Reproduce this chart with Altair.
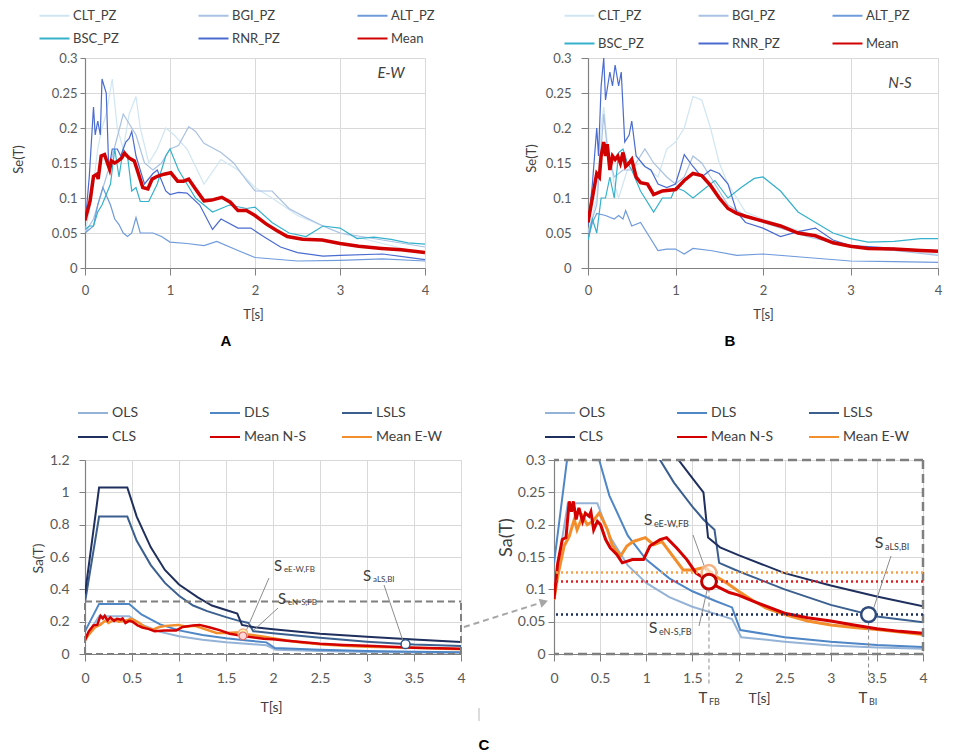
import altair as alt
import pandas as pd

FONT = "Lato"
TXT = "#404040"
TICK = "#595959"
GRID = "#d9d9d9"
AXC = "#808080"

# ---------------- Panel A : E-W records ----------------
A_NAMES = ["CLT_PZ", "BGI_PZ", "ALT_PZ", "BSC_PZ", "RNR_PZ", "Mean"]
A_COLORS = ["#cfe6f2", "#a9c1e3", "#6f9bdb", "#35b1cb", "#4a6bd0", "#d10000"]

A_T_CLT = [0, 0.05, 0.1, 0.15, 0.2, 0.25, 0.32, 0.38, 0.45, 0.52, 0.6, 0.65, 0.75, 0.85, 0.95, 1.05, 1.2, 1.4, 1.6, 1.8, 2.0, 2.2, 2.5, 2.8, 3.0, 3.5, 4.0]
A_V_CLT = [0.05, 0.08, 0.12, 0.17, 0.2, 0.22, 0.27, 0.2, 0.17, 0.22, 0.245, 0.2, 0.15, 0.17, 0.2, 0.19, 0.17, 0.12, 0.155, 0.14, 0.115, 0.1, 0.075, 0.06, 0.05, 0.035, 0.02]
A_T_BGI = [0, 0.1, 0.2, 0.3, 0.45, 0.5, 0.6, 0.7, 0.8, 0.9, 1.0, 1.1, 1.22, 1.3, 1.4, 1.6, 1.75, 1.9, 2.0, 2.2, 2.4, 2.6, 2.8, 3.0, 3.5, 4.0]
A_V_BGI = [0.05, 0.07, 0.11, 0.15, 0.22, 0.21, 0.19, 0.15, 0.14, 0.15, 0.17, 0.175, 0.202, 0.195, 0.178, 0.165, 0.15, 0.125, 0.11, 0.11, 0.085, 0.072, 0.06, 0.05, 0.04, 0.03]
A_T_ALT = [0, 0.05, 0.1, 0.15, 0.21, 0.3, 0.35, 0.4, 0.45, 0.5, 0.55, 0.6, 0.65, 0.8, 0.9, 1.0, 1.2, 1.4, 1.55, 1.8, 2.0, 2.5, 3.0, 3.5, 4.0]
A_V_ALT = [0.05, 0.055, 0.06, 0.09, 0.115, 0.09, 0.07, 0.062, 0.05, 0.045, 0.05, 0.072, 0.05, 0.05, 0.045, 0.037, 0.035, 0.032, 0.038, 0.025, 0.015, 0.01, 0.011, 0.013, 0.01]
A_T_BSC = [0, 0.05, 0.1, 0.15, 0.2, 0.3, 0.35, 0.4, 0.45, 0.5, 0.55, 0.6, 0.65, 0.75, 0.85, 0.95, 1.0, 1.1, 1.2, 1.3, 1.5, 1.7, 1.9, 2.0, 2.2, 2.4, 2.6, 2.8, 3.0, 3.2, 3.4, 3.6, 3.8, 4.0]
A_V_BSC = [0.055, 0.06, 0.06, 0.08, 0.09, 0.12, 0.17, 0.13, 0.17, 0.16, 0.11, 0.115, 0.095, 0.095, 0.12, 0.16, 0.17, 0.14, 0.12, 0.1, 0.08, 0.09, 0.085, 0.087, 0.065, 0.05, 0.045, 0.06, 0.057, 0.042, 0.044, 0.041, 0.036, 0.034]
A_T_RNR = [0, 0.05, 0.1, 0.12, 0.15, 0.18, 0.2, 0.25, 0.28, 0.32, 0.38, 0.42, 0.48, 0.52, 0.55, 0.6, 0.7, 0.8, 0.85, 0.95, 1.0, 1.1, 1.2, 1.35, 1.5, 1.6, 1.8, 1.95, 2.1, 2.3, 2.5, 2.8, 3.0, 3.5, 4.0]
A_V_RNR = [0.06, 0.13, 0.23, 0.19, 0.21, 0.19, 0.27, 0.25, 0.14, 0.17, 0.17, 0.16, 0.18, 0.185, 0.195, 0.16, 0.12, 0.135, 0.14, 0.11, 0.105, 0.108, 0.107, 0.09, 0.055, 0.07, 0.057, 0.057, 0.045, 0.03, 0.022, 0.017, 0.018, 0.02, 0.012]
A_T_MEAN = [0, 0.06, 0.1, 0.14, 0.155, 0.19, 0.23, 0.27, 0.29, 0.31, 0.35, 0.39, 0.43, 0.465, 0.52, 0.58, 0.62, 0.68, 0.74, 0.79, 0.85, 0.93, 1.01, 1.09, 1.16, 1.22, 1.3, 1.4, 1.49, 1.61, 1.71, 1.8, 1.9, 2.0, 2.13, 2.25, 2.38, 2.56, 2.79, 3.0, 3.22, 3.49, 3.72, 4.0]
A_V_MEAN = [0.068, 0.096, 0.131, 0.134, 0.127, 0.16, 0.162, 0.148, 0.141, 0.153, 0.15, 0.153, 0.157, 0.164, 0.157, 0.153, 0.138, 0.115, 0.113, 0.127, 0.131, 0.134, 0.136, 0.124, 0.124, 0.127, 0.113, 0.096, 0.097, 0.101, 0.094, 0.082, 0.082, 0.075, 0.063, 0.054, 0.045, 0.041, 0.04, 0.035, 0.031, 0.028, 0.026, 0.022]

# ---------------- Panel B : N-S records ----------------
B_T_CLT = [0, 0.1, 0.15, 0.18, 0.22, 0.3, 0.35, 0.45, 0.6, 0.8, 0.9, 1.0, 1.1, 1.2, 1.3, 1.4, 1.5, 1.6, 1.8, 2.0, 2.5, 3.0, 3.5, 4.0]
B_V_CLT = [0.05, 0.1, 0.2, 0.23, 0.18, 0.12, 0.1, 0.14, 0.15, 0.13, 0.17, 0.18, 0.2, 0.245, 0.24, 0.2, 0.15, 0.12, 0.08, 0.07, 0.05, 0.03, 0.025, 0.02]
B_T_BGI = [0, 0.1, 0.18, 0.22, 0.3, 0.4, 0.5, 0.65, 0.75, 0.9, 1.0, 1.1, 1.2, 1.3, 1.4, 1.6, 1.8, 2.0, 2.5, 3.0, 3.5, 4.0]
B_V_BGI = [0.05, 0.09, 0.22, 0.17, 0.13, 0.14, 0.14, 0.17, 0.15, 0.13, 0.12, 0.13, 0.16, 0.15, 0.13, 0.09, 0.075, 0.065, 0.045, 0.03, 0.025, 0.018]
B_T_ALT = [0, 0.05, 0.1, 0.2, 0.3, 0.35, 0.4, 0.43, 0.5, 0.6, 0.7, 0.8, 0.9, 1.0, 1.1, 1.2, 1.4, 1.7, 2.0, 2.5, 3.0, 3.5, 4.0]
B_V_ALT = [0.04, 0.065, 0.078, 0.075, 0.07, 0.075, 0.07, 0.082, 0.06, 0.065, 0.045, 0.025, 0.027, 0.027, 0.02, 0.028, 0.025, 0.018, 0.02, 0.015, 0.01, 0.009, 0.008]
B_T_BSC = [0, 0.05, 0.1, 0.15, 0.2, 0.25, 0.3, 0.35, 0.4, 0.45, 0.5, 0.6, 0.75, 0.85, 0.95, 1.0, 1.1, 1.2, 1.3, 1.45, 1.6, 1.75, 1.9, 2.0, 2.2, 2.4, 2.6, 2.8, 3.0, 3.2, 3.5, 3.8, 4.0]
B_V_BSC = [0.04, 0.07, 0.05, 0.1, 0.1, 0.13, 0.1, 0.165, 0.17, 0.15, 0.14, 0.11, 0.08, 0.1, 0.1, 0.115, 0.11, 0.1, 0.11, 0.125, 0.1, 0.115, 0.128, 0.13, 0.11, 0.08, 0.065, 0.05, 0.042, 0.037, 0.038, 0.042, 0.042]
B_T_RNR = [0, 0.05, 0.1, 0.12, 0.15, 0.18, 0.2, 0.25, 0.28, 0.31, 0.35, 0.38, 0.42, 0.47, 0.5, 0.55, 0.65, 0.72, 0.8, 0.9, 1.0, 1.05, 1.1, 1.2, 1.3, 1.4, 1.5, 1.6, 1.7, 1.8, 2.0, 2.2, 2.4, 2.6, 2.8, 3.0, 3.3, 3.6, 4.0]
B_V_RNR = [0.06, 0.12, 0.2, 0.16, 0.26, 0.3, 0.24, 0.28, 0.26, 0.29, 0.26, 0.28, 0.18, 0.19, 0.21, 0.16, 0.145, 0.14, 0.12, 0.115, 0.12, 0.14, 0.162, 0.145, 0.13, 0.14, 0.135, 0.12, 0.08, 0.065, 0.057, 0.045, 0.052, 0.057, 0.04, 0.032, 0.03, 0.027, 0.025]
B_T_MEAN = [0, 0.05, 0.1, 0.13, 0.15, 0.18, 0.2, 0.22, 0.25, 0.28, 0.31, 0.34, 0.37, 0.4, 0.43, 0.47, 0.5, 0.55, 0.6, 0.68, 0.75, 0.85, 1.0, 1.1, 1.2, 1.3, 1.4, 1.5, 1.6, 1.7, 1.8, 2.0, 2.2, 2.4, 2.6, 2.8, 3.0, 3.2, 3.5, 3.8, 4.0]
B_V_MEAN = [0.065, 0.1, 0.135, 0.13, 0.16, 0.18, 0.16, 0.177, 0.14, 0.16, 0.155, 0.16, 0.15, 0.165, 0.145, 0.15, 0.155, 0.13, 0.122, 0.12, 0.105, 0.11, 0.112, 0.125, 0.135, 0.132, 0.118, 0.1, 0.085, 0.078, 0.074, 0.067, 0.06, 0.05, 0.046, 0.036, 0.031, 0.028, 0.027, 0.025, 0.024]

# ---------------- Panels C / D : code spectra and mean spectra ----------------
C_NAMES = ["OLS", "DLS", "LSLS", "CLS", "Mean N-S", "Mean E-W"]
C_COLORS = ["#95b3d7", "#4f86c6", "#3b5f8f", "#1f2f5e", "#d40000", "#f28e2b"]

OLS_T = [0, 0.15, 0.47, 0.6, 0.8, 1.0, 1.25, 1.5, 1.75, 1.93, 2.03, 2.5, 3.0, 3.5, 4.0]
OLS_V = [0.1, 0.233, 0.233, 0.183, 0.137, 0.11, 0.088, 0.073, 0.062, 0.054, 0.026, 0.019, 0.013, 0.01, 0.008]
DLS_T = [0, 0.15, 0.47, 0.6, 0.8, 1.0, 1.25, 1.5, 1.75, 1.93, 2.02, 2.5, 3.0, 3.5, 4.0]
DLS_V = [0.14, 0.31, 0.31, 0.245, 0.183, 0.146, 0.117, 0.097, 0.082, 0.072, 0.037, 0.026, 0.019, 0.014, 0.011]
LSLS_T = [0, 0.15, 0.45, 0.55, 0.7, 0.85, 1.0, 1.15, 1.3, 1.5, 1.62, 1.74, 1.79, 2.0, 2.5, 3.0, 3.5, 4.0]
LSLS_V = [0.32, 0.85, 0.85, 0.70, 0.55, 0.44, 0.36, 0.30, 0.265, 0.228, 0.208, 0.192, 0.141, 0.128, 0.1, 0.076, 0.058, 0.049]
CLS_T = [0, 0.15, 0.45, 0.55, 0.7, 0.85, 1.0, 1.2, 1.35, 1.5, 1.62, 1.67, 1.8, 2.0, 2.5, 3.0, 3.5, 4.0]
CLS_V = [0.37, 1.03, 1.03, 0.85, 0.66, 0.52, 0.43, 0.35, 0.30, 0.272, 0.25, 0.18, 0.165, 0.153, 0.125, 0.106, 0.089, 0.074]
MNS_T = [0, 0.04, 0.09, 0.13, 0.165, 0.19, 0.21, 0.24, 0.27, 0.31, 0.34, 0.38, 0.40, 0.43, 0.47, 0.505, 0.56, 0.61, 0.68, 0.74, 0.85, 0.97, 1.04, 1.15, 1.22, 1.33, 1.44, 1.54, 1.62, 1.68, 1.76, 1.9, 2.0, 2.15, 2.3, 2.5, 2.75, 3.0, 3.25, 3.5, 3.75, 4.0]
MNS_V = [0.085, 0.14, 0.177, 0.18, 0.236, 0.22, 0.236, 0.208, 0.226, 0.205, 0.218, 0.213, 0.22, 0.192, 0.205, 0.2, 0.177, 0.164, 0.154, 0.141, 0.146, 0.146, 0.167, 0.177, 0.18, 0.164, 0.146, 0.125, 0.118, 0.112, 0.105, 0.095, 0.091, 0.082, 0.074, 0.063, 0.056, 0.051, 0.045, 0.039, 0.035, 0.032]
MEW_T = [0, 0.04, 0.11, 0.165, 0.22, 0.25, 0.31, 0.36, 0.42, 0.49, 0.52, 0.58, 0.63, 0.72, 0.79, 0.86, 0.99, 1.08, 1.17, 1.29, 1.4, 1.51, 1.6, 1.65, 1.72, 1.87, 2.0, 2.15, 2.3, 2.5, 2.75, 3.0, 3.25, 3.5, 3.75, 4.0]
MEW_V = [0.084, 0.12, 0.167, 0.182, 0.208, 0.192, 0.213, 0.2, 0.205, 0.218, 0.21, 0.192, 0.169, 0.151, 0.167, 0.174, 0.18, 0.169, 0.174, 0.151, 0.13, 0.13, 0.133, 0.133, 0.123, 0.11, 0.097, 0.083, 0.071, 0.061, 0.051, 0.045, 0.041, 0.038, 0.034, 0.03]

# characteristic points
PT_T = [1.68, 1.68, 3.41]          # T_FB, T_FB, T_BI
PT_V = [0.126, 0.112, 0.061]        # SeE-W,FB ; SeN-S,FB ; SaLS,BI
BOX_C_TOP = 0.325

AX_TICKS = [0, 1, 2, 3, 4]
AX_YTICKS = [0, 0.05, 0.1, 0.15, 0.2, 0.25, 0.3]
C_XTICKS = [0, 0.5, 1, 1.5, 2, 2.5, 3, 3.5, 4]
C_YTICKS = [0, 0.2, 0.4, 0.6, 0.8, 1.0, 1.2]


def frame(names, ts, vs):
    rows = []
    for n, t, v in zip(names, ts, vs):
        for a, b in zip(t, v):
            rows.append({"series": n, "T": a, "v": b})
    return pd.DataFrame(rows)


ONE = pd.DataFrame({"k": [0]})
LEG_PATH = "M-3,0H3"


def legend(x, y, cp, rp, fs):
    return alt.Legend(orient="none", legendX=x, legendY=y, columns=3, direction="horizontal", title=None,
                      symbolType=LEG_PATH, symbolSize=100, symbolStrokeWidth=2,
                      labelOffset=12, labelFont=FONT, labelFontSize=fs, labelColor=TXT,
                      columnPadding=cp, rowPadding=rp, gridAlign="all", labelLimit=300)


def axis(values, fmt, fs, title, tx, ty, tick, lpad, tfs=13, grid=True):
    return alt.Axis(values=values, format=fmt, grid=grid, gridColor=GRID, gridWidth=1,
                    labelFont=FONT, labelFontSize=fs, labelColor=TICK, labelPadding=lpad,
                    labelFlush=False, labelOverlap=False,
                    tickSize=tick, tickColor=AXC, domainColor=AXC, domainWidth=1.2,
                    title=title, titleX=tx, titleY=ty, titleFont=FONT, titleFontSize=tfs,
                    titleFontWeight="normal", titleColor=TXT, titleBaseline="middle",
                    titleAlign="center")


def text(label, x, y, size=13, weight="normal", style="normal", font=FONT, color=TXT, align="center"):
    return alt.Chart(pd.DataFrame({"t": [label]})).mark_text(
        font=font, fontSize=size, fontWeight=weight, fontStyle=style, color=color,
        align=align, baseline="middle").encode(x=alt.value(x), y=alt.value(y), text="t:N")


def sub_label(main, sub, x, y, size, subsize):
    return [text(main, x, y, size=size), text(sub, x + 6, y + 4, size=subsize, align="left")]


def pixel_rule(x1, y1, x2, y2, color="#8c8c8c", width=1, dash=None):
    kw = dict(color=color, strokeWidth=width)
    if dash:
        kw["strokeDash"] = dash
    return alt.Chart(ONE).mark_rule(**kw).encode(
        x=alt.value(x1), y=alt.value(y1), x2=alt.value(x2), y2=alt.value(y2))


def pin(x, y):
    return alt.Chart(ONE).mark_rule(color="white", strokeOpacity=0, strokeWidth=0.5).encode(
        x=alt.value(x), x2=alt.value(x + 1), y=alt.value(y), y2=alt.value(y))


def se_panel(df, names, colors, w, h, leg, ytitle_xy, xtitle_xy, ylpad, ytick, tag, tag_xy, letter, letter_xy, pins):
    color = alt.Color("series:N", scale=alt.Scale(domain=names, range=colors), legend=leg)
    x = alt.X("T:Q", scale=alt.Scale(domain=[0, 4], nice=False),
              axis=axis(AX_TICKS, "d", 13, "T[s]", xtitle_xy[0], xtitle_xy[1], 7, 9))
    y = alt.Y("v:Q", scale=alt.Scale(domain=[0, 0.3], nice=False),
              axis=axis(AX_YTICKS, ".2~f", 13, "Se(T)", ytitle_xy[0], ytitle_xy[1], ytick, ylpad, tfs=13))
    base = alt.Chart(df).encode(x=x, y=y, color=color)
    others = base.transform_filter("datum.series !== 'Mean'").mark_line(strokeWidth=1.2, clip=True)
    mean = base.transform_filter("datum.series === 'Mean'").mark_line(strokeWidth=3.5, clip=True)
    layers = [others, mean,
              text(tag, tag_xy[0], tag_xy[1], size=15, style="italic"),
              text(letter, letter_xy[0], letter_xy[1], size=15, weight="bold", font="Liberation Sans", color="black")]
    layers += [pin(px, py) for px, py in pins]
    return alt.layer(*layers).properties(width=w, height=h)


# ---------- A ----------
dfA = frame(A_NAMES,
            [A_T_CLT, A_T_BGI, A_T_ALT, A_T_BSC, A_T_RNR, A_T_MEAN],
            [A_V_CLT, A_V_BGI, A_V_ALT, A_V_BSC, A_V_RNR, A_V_MEAN])
panelA = se_panel(dfA, A_NAMES, A_COLORS, 340, 210,
                  legend(-37, -49, 73, 9, 13),
                  (-67, 101), (168, 46), 3, 5, "E-W", (306, 15), "A", (141, 283),
                  [(-76, -49), (-76, 295)])

# ---------- B ----------
dfB = frame(A_NAMES,
            [B_T_CLT, B_T_BGI, B_T_ALT, B_T_BSC, B_T_RNR, B_T_MEAN],
            [B_V_CLT, B_V_BGI, B_V_ALT, B_V_BSC, B_V_RNR, B_V_MEAN])
panelB = se_panel(dfB, A_NAMES, A_COLORS, 350, 210,
                  legend(-15, -49, 48, 14, 13),
                  (-57, 100), (175, 46), 10, 7, "N-S", (312, 25), "B", (142, 283), [])

# ---------- C / D ----------
dfC = frame(C_NAMES, [OLS_T, DLS_T, LSLS_T, CLS_T, MNS_T, MEW_T],
            [OLS_V, DLS_V, LSLS_V, CLS_V, MNS_V, MEW_V])
ptdf = pd.DataFrame({"T": PT_T, "v": PT_V})
lvdf = pd.DataFrame({"v": PT_V})


def sa_panel(w, h, ydom, yticks, yfmt, ylpad, ytitle, ytitle_xy, ytfs, xtitle_xy, leg, code_w, mean_w, build_extras):
    xscale = alt.Scale(domain=[0, 4], nice=False)
    yscale = alt.Scale(domain=ydom, nice=False)
    xaxis = axis(C_XTICKS, ".1~f", 14, "T[s]", xtitle_xy[0], xtitle_xy[1], 7, 10, tfs=14)
    yaxis = axis(yticks, yfmt, 14, ytitle, ytitle_xy[0], ytitle_xy[1], 6, ylpad, tfs=ytfs)

    def X(f):
        return alt.X(f, scale=xscale, axis=xaxis)

    def Y(f):
        return alt.Y(f, scale=yscale, axis=yaxis)

    color = alt.Color("series:N", scale=alt.Scale(domain=C_NAMES, range=C_COLORS), legend=leg)
    base = alt.Chart(dfC).encode(x=X("T:Q"), y=Y("v:Q"), color=color)
    code = base.transform_filter("indexof(datum.series, 'Mean') < 0").mark_line(strokeWidth=code_w, clip=True)
    mew = base.transform_filter("datum.series === 'Mean E-W'").mark_line(strokeWidth=mean_w, clip=True)
    mns = base.transform_filter("datum.series === 'Mean N-S'").mark_line(strokeWidth=mean_w, clip=True)
    return alt.layer(code, mew, mns, *build_extras(X, Y)).properties(width=w, height=h)


def circle(X, Y, i, fill, stroke, size, width, fill_opacity=1.0):
    return alt.Chart(ptdf.iloc[[i]]).mark_point(
        shape="circle", filled=False, fill=fill, fillOpacity=fill_opacity, stroke=stroke,
        strokeWidth=width, size=size, opacity=1).encode(x=X("T:Q"), y=Y("v:Q"))


def extras_c(X, Y):
    boxdf = pd.DataFrame({"T0": [0], "T1": [4], "v0": [0], "v1": [BOX_C_TOP]})
    dash = dict(color="#7f7f7f", strokeWidth=2, strokeDash=[7, 4])
    box = [
        alt.Chart(boxdf).mark_rule(**dash).encode(x=X("T0:Q"), x2="T1:Q", y=Y("v1:Q")),
        alt.Chart(boxdf).mark_rule(**dash).encode(x=X("T0:Q"), x2="T1:Q", y=Y("v0:Q")),
        alt.Chart(boxdf).mark_rule(**dash).encode(x=X("T1:Q"), y=Y("v0:Q"), y2="v1:Q"),
        alt.Chart(boxdf).mark_rule(**dash).encode(x=X("T0:Q"), y=Y("v0:Q"), y2="v1:Q"),
    ]
    return box + [
        pixel_rule(184, 118, 161, 171), pixel_rule(193, 148, 169, 170), pixel_rule(299, 125, 318, 181),
        circle(X, Y, 0, "#fff2a8", "#f4b183", 90, 1.5),
        circle(X, Y, 1, "#ffd6d6", "#e06666", 60, 1.2),
        circle(X, Y, 2, "white", "#2e5a8a", 80, 1.5),
    ] + sub_label("S", "eE-W,FB", 193, 106, 15, 8) + sub_label("S", "eN-S,FB", 197, 139, 15, 8) \
      + sub_label("S", "aLS,BI", 282, 116, 15, 8) + [pin(-76, -62)]


def extras_d(X, Y):
    boxdf = pd.DataFrame({"T1": [4], "v0": [0], "v1": [0.3]})
    dash = dict(color="#7f7f7f", strokeWidth=2.5, strokeDash=[9, 5])
    box = [
        alt.Chart(boxdf).mark_rule(**dash).encode(y=Y("v1:Q")),
        alt.Chart(boxdf).mark_rule(**dash).encode(y=Y("v0:Q")),
        alt.Chart(boxdf).mark_rule(**dash).encode(x=X("T1:Q")),
    ]
    levels = [
        alt.Chart(lvdf.iloc[[0]]).mark_rule(color="#f5a04a", strokeWidth=2.5, strokeDash=[2, 3]).encode(y=Y("v:Q")),
        alt.Chart(lvdf.iloc[[1]]).mark_rule(color="#e02020", strokeWidth=2.5, strokeDash=[2, 3]).encode(y=Y("v:Q")),
        alt.Chart(lvdf.iloc[[2]]).mark_rule(color="#1f2f5e", strokeWidth=2.5, strokeDash=[2, 3]).encode(y=Y("v:Q")),
    ]
    drops = [
        alt.Chart(ptdf.iloc[[1]]).mark_rule(color="#8c8c8c", strokeWidth=1, strokeDash=[4, 3]).encode(
            x=X("T:Q"), y=Y("v:Q"), y2=alt.value(225)),
        alt.Chart(ptdf.iloc[[2]]).mark_rule(color="#8c8c8c", strokeWidth=1, strokeDash=[4, 3]).encode(
            x=X("T:Q"), y=Y("v:Q"), y2=alt.value(225)),
    ]
    arrow = [
        pixel_rule(-90, 167, -14, 143, color="#a6a6a6", width=2, dash=[6, 4]),
        alt.Chart(ONE).mark_point(shape="triangle-right", filled=True, size=90, angle=343,
                                  color="#a6a6a6", opacity=1).encode(x=alt.value(-10), y=alt.value(142)),
        pixel_rule(-75, 248, -75, 261, color="#d0d0d0", width=1.5),
        text("C", -70, 285, size=15, weight="bold", font="Liberation Sans", color="black"),
    ]
    return box + levels + drops + [
        pixel_rule(139, 75, 152, 111), pixel_rule(145, 166, 154, 126), pixel_rule(337, 96, 319, 150),
        circle(X, Y, 0, "white", "#f4b183", 220, 2.5, 0.6),
        circle(X, Y, 1, "white", "#c00000", 220, 3),
        circle(X, Y, 2, "white", "#2f4b7c", 220, 2.5),
    ] + sub_label("S", "eE-W,FB", 94, 60, 16, 9) + sub_label("S", "eN-S,FB", 99, 168, 16, 9) \
      + sub_label("S", "aLS,BI", 325, 83, 16, 9) + sub_label("T", "FB", 149, 238, 15, 9) \
      + sub_label("T", "BI", 309, 238, 15, 9) + arrow


panelC = sa_panel(376, 194, [0, 1.2], C_YTICKS, ".1~f", 10, "Sa(T)", (-47, 98), 14, (186, 53),
                  legend(1, -54, 27, 10, 14), 2, 2.5, extras_c)
panelD = sa_panel(369, 194, [0, 0.3], AX_YTICKS, ".2~f", 3, "Sa(T)", (-48, 77), 18, (205, 44),
                  legend(-1, -54, 27, 10, 14), 2, 3, extras_d)

top = alt.hconcat(panelA, panelB, spacing=163, bounds="flush").resolve_scale(
    x="independent", y="independent", color="independent").resolve_legend(color="independent")
bottom = alt.hconcat(panelC, panelD, spacing=93, bounds="flush").resolve_scale(
    x="independent", y="independent", color="independent").resolve_legend(color="independent")

chart = alt.vconcat(top, bottom, spacing=43).resolve_scale(
    x="independent", y="independent", color="independent").resolve_legend(color="independent").properties(
    padding=0).configure_view(stroke=None).configure(background="white")

chart.save("out.html", embed_options={"renderer": "svg", "actions": False})
